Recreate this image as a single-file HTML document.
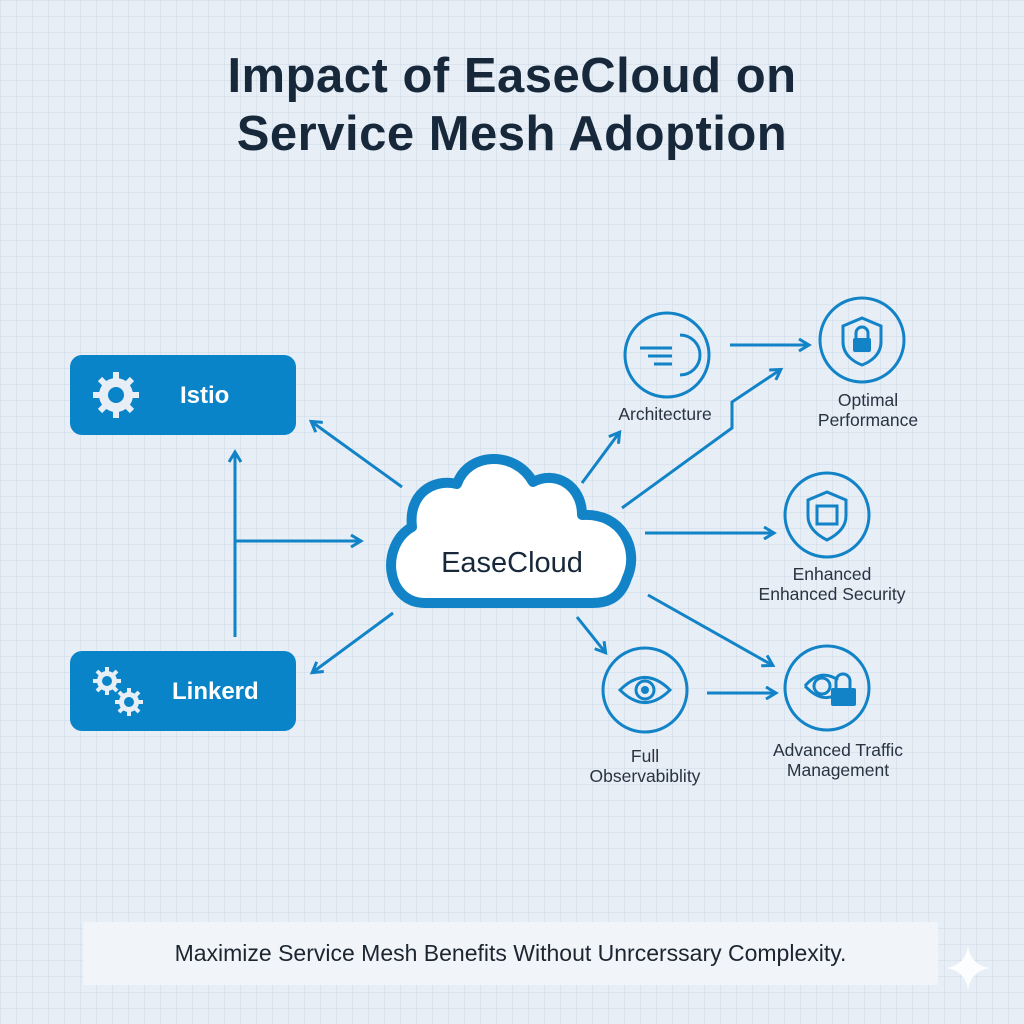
<!DOCTYPE html>
<html><head><meta charset="utf-8"><style>
html,body{margin:0;padding:0}
body{width:1024px;height:1024px;overflow:hidden;background:#e7eef6;font-family:"Liberation Sans",sans-serif;position:relative;
background-image:linear-gradient(rgba(180,200,220,.28) 1px,transparent 1px),linear-gradient(90deg,rgba(180,200,220,.28) 1px,transparent 1px);background-size:16px 16px}
.t{position:absolute;left:0;width:1024px;text-align:center;font-weight:bold;font-size:49px;letter-spacing:0.5px;color:#17283a}
.box{position:absolute;left:70px;width:226px;height:80px;background:#0a84c8;border-radius:12px;color:#fff;font-weight:bold;font-size:24px}
.lbl{position:absolute;text-align:center;font-size:17.5px;color:#2a3340;line-height:20px;width:200px}
.foot{position:absolute;left:83px;top:922px;width:855px;height:63px;background:#f1f5fa;text-align:center;line-height:63px;font-size:23px;color:#1c2530}
</style></head><body>
<div class="t" style="top:48px">Impact of EaseCloud on</div>
<div class="t" style="top:106px">Service Mesh Adoption</div>
<div class="box" style="top:355px"><span style="position:absolute;left:110px;top:27px">Istio</span></div>
<div class="box" style="top:651px"><span style="position:absolute;left:102px;top:27px">Linkerd</span></div>
<svg width="1024" height="1024" style="position:absolute;left:0;top:0">
<defs><marker id="a" markerWidth="14" markerHeight="14" refX="10" refY="7" orient="auto" markerUnits="userSpaceOnUse"><path d="M1,1 L11,7 L1,13" fill="none" stroke="#1283c7" stroke-width="3"/></marker></defs>
<g stroke="#1283c7" stroke-width="3" fill="none" marker-end="url(#a)">
<path d="M402,487 L312,422"/>
<path d="M235,637 L235,453"/>
<path d="M235,541 L360,541"/>
<path d="M393,613 L313,672"/>
<path d="M582,483 L619,433"/>
<path d="M622,508 L732,428 L732,402 L780,370"/>
<path d="M730,345 L808,345"/>
<path d="M645,533 L773,533"/>
<path d="M648,595 L772,665"/>
<path d="M577,617 L605,652"/>
<path d="M707,693 L775,693"/>
</g>
<g fill="#e8eef5">
<circle cx="116" cy="395" r="17"/>
<g stroke="#e8eef5" stroke-width="6">
<path d="M116,372 V418 M93,395 H139 M100,379 L132,411 M132,379 L100,411"/>
</g>
<circle cx="116" cy="395" r="8" fill="#0a84c8"/>
<circle cx="107" cy="681" r="10"/><g stroke="#e8eef5" stroke-width="4"><path d="M107,667 V695 M93,681 H121 M97,671 L117,691 M117,671 L97,691"/></g><circle cx="107" cy="681" r="5" fill="#0a84c8"/>
<circle cx="129" cy="702" r="10"/><g stroke="#e8eef5" stroke-width="4"><path d="M129,688 V716 M115,702 H143 M119,692 L139,712 M139,692 L119,712"/></g><circle cx="129" cy="702" r="5" fill="#0a84c8"/>
</g>
<path d="M425,603 C385,603 380,545 412,527 C408,495 432,478 457,484 C468,452 515,450 533,482 C555,470 582,485 582,515 C622,512 640,550 627,578 C620,600 605,603 592,603 Z" fill="#fff" stroke="#1283c7" stroke-width="10" stroke-linejoin="round"/>
<text x="512" y="572" text-anchor="middle" font-size="29" fill="#17283a" font-family="Liberation Sans">EaseCloud</text>
<g fill="none" stroke="#1283c7" stroke-width="3">
<circle cx="667" cy="355" r="42"/><circle cx="862" cy="340" r="42"/><circle cx="827" cy="515" r="42"/><circle cx="645" cy="690" r="42"/><circle cx="827" cy="688" r="42"/>
<path d="M640,348 H672 M648,356 H672 M654,364 H672" stroke-width="3"/>
<path d="M680,335 A20,20 0 0 1 680,375"/>
<path d="M862,318 L881,326 V342 C881,355 870,362 862,365 C854,362 843,355 843,342 V326 Z"/>
<path d="M827,492 L846,500 V516 C846,529 835,536 827,540 C819,536 808,529 808,516 V500 Z"/>
<rect x="817" y="506" width="20" height="18"/>
<path d="M620,690 Q645,665 670,690 Q645,715 620,690 Z"/>
<circle cx="645" cy="690" r="9"/>
<path d="M805,686 Q820,668 838,680 M805,686 Q820,702 834,696"/>
<circle cx="822" cy="686" r="8"/>
<path d="M836,688 V681 A7,7 0 0 1 850,681 V688"/>
</g>
<g fill="#1283c7">
<rect x="853" y="338" width="18" height="14" rx="2"/>
<path d="M856,338 V333 A6,6 0 0 1 868,333 V338" fill="none" stroke="#1283c7" stroke-width="3"/>
<rect x="831" y="688" width="25" height="18" rx="2"/>
<circle cx="645" cy="690" r="4"/>
</g>
<path d="M968,945 Q970,965 990,968 Q970,971 968,991 Q966,971 946,968 Q966,965 968,945 Z" fill="#fbfdff"/>
</svg>
<div class="lbl" style="left:565px;top:404px">Architecture</div>
<div class="lbl" style="left:768px;top:390px">Optimal<br>Performance</div>
<div class="lbl" style="left:732px;top:564px">Enhanced<br>Enhanced Security</div>
<div class="lbl" style="left:545px;top:746px">Full<br>Observabiblity</div>
<div class="lbl" style="left:738px;top:740px">Advanced Traffic<br>Management</div>
<div class="foot">Maximize Service Mesh Benefits Without Unrcerssary Complexity.</div>
</body></html>
